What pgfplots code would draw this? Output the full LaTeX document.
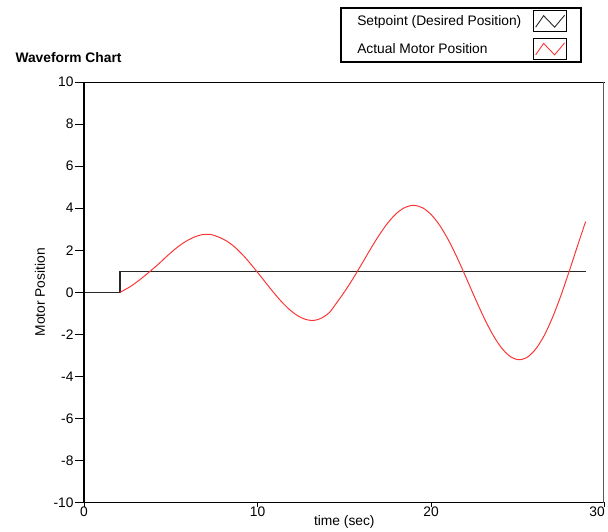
\documentclass[border=0pt]{standalone}
\usepackage{fontspec}
\setmainfont{Liberation Sans}
\usepackage{pgfplots}
\pgfplotsset{compat=1.18}
\definecolor{motorred}{RGB}{250,55,55}
\definecolor{setgray}{RGB}{40,40,40}
\definecolor{framegray}{RGB}{90,90,90}
\newcommand{\chartfont}{\fontsize{13.8bp}{16bp}\selectfont}
\begin{document}
\begin{tikzpicture}
\begin{axis}[
  scale only axis, width=521bp, height=421bp,
  xmin=0, xmax=30, ymin=-10, ymax=10,
  xtick={0,10,20,30}, xticklabels={0,10,20,\llap{30}},
  ytick={-10,-8,...,10},
  tick align=outside, xtick pos=bottom, ytick pos=left,
  major tick length=9bp,
  x tick style={draw=none},
  y tick style={black, line width=0.8bp},
  axis line style={draw=none},
  /pgf/number format/assume math mode=true,
  tick label style={font=\chartfont},
  x tick label style={yshift=8bp},
  y tick label style={xshift=2bp},
  xlabel={time (sec)}, ylabel={Motor Position},
  every axis x label/.style={at={(rel axis cs:0.5,0)}, yshift=-19bp, anchor=center, font=\chartfont},
  every axis y label/.style={at={(rel axis cs:0,0.5)}, xshift=-44bp, rotate=90, anchor=center, font=\chartfont},
  legend plot pos=right, legend cell align=left,
  legend style={at={(0.956,1.178)}, anchor=north east, draw=black, line width=1.6bp,
    inner xsep=14bp, inner ysep=2.5bp, row sep=6bp, column sep=10bp, font=\chartfont},
  legend image code/.code={
    \draw[black, line width=0.7bp] (0bp,-10.5bp) rectangle (33bp,10.5bp);
    \draw[#1, line width=0.9bp] (2bp,-6bp) -- (10bp,5.5bp) -- (21bp,-6bp) -- (31bp,6bp);
  },
  clip=false,
]
\addplot[setgray, line width=1.3bp] coordinates {(0,0) (2.07,0) (2.07,1) (28.9,1)};
\addlegendentry{Setpoint (Desired Position)}
\addplot[motorred, line width=1bp, smooth] coordinates {
  (2.07,0) (2.65,0.262) (3.2,0.588) (3.75,0.958) (4.3,1.349) (4.8,1.735)
  (5.3,2.090) (5.8,2.388) (6.3,2.606) (6.8,2.74) (7.3,2.75) (7.8,2.613)
  (8.3,2.399) (8.8,2.067) (9.3,1.643) (9.8,1.153) (10.3,0.640) (10.8,0.119)
  (11.3,-0.369) (11.8,-0.788) (12.3,-1.105) (12.8,-1.293) (13.25,-1.335) (13.7,-1.219)
  (14.15,-0.947) (14.6,-0.45) (15,0.014) (15.5,0.651) (16,1.344) (16.5,2.045)
  (17,2.712) (17.5,3.294) (18,3.749) (18.5,4.038) (19,4.135) (19.5,4.022)
  (20,3.699) (20.5,3.176) (21,2.481) (21.5,1.649) (22,0.729) (22.5,-0.216)
  (23,-1.123) (23.5,-1.931) (24,-2.579) (24.5,-3.014) (25,-3.198) (25.5,-3.107)
  (26,-2.723) (26.5,-2.076) (27,-1.185) (27.5,-0.101) (28,1.112) (28.5,2.374)
  (28.9,3.36)};
\addlegendentry{Actual Motor Position}
% frame: heavy left/bottom, thin top, grey right
\draw[black, line width=1.5bp] (rel axis cs:0,1) -- (rel axis cs:0,0) -- (rel axis cs:1,0);
\draw[black, line width=0.9bp] (rel axis cs:0,1) -- (rel axis cs:1,1);
\draw[framegray, line width=1.6bp] ([xshift=-1bp]rel axis cs:1,1) -- ([xshift=-1bp]rel axis cs:1,0);
\draw[black, line width=0.8bp] (axis cs:0,-10) -- ([yshift=-4bp]axis cs:0,-10);
\draw[black, line width=0.8bp] (axis cs:10,-10) -- ([yshift=-4bp]axis cs:10,-10);
\draw[black, line width=0.8bp] (axis cs:20,-10) -- ([yshift=-4bp]axis cs:20,-10);
\draw[black, line width=0.8bp] (axis cs:30,-10) -- ([yshift=-4bp]axis cs:30,-10);
\node[anchor=west, font=\bfseries\chartfont, xshift=-72bp, yshift=24bp] at (rel axis cs:0,1) {Waveform Chart};
\coordinate (bl) at (rel axis cs:0,0);
\coordinate (tr) at (rel axis cs:1,1);
\end{axis}
\path ([shift={(-84bp,-27bp)}]bl) rectangle ([shift={(3bp,82bp)}]tr);
\end{tikzpicture}
\end{document}
